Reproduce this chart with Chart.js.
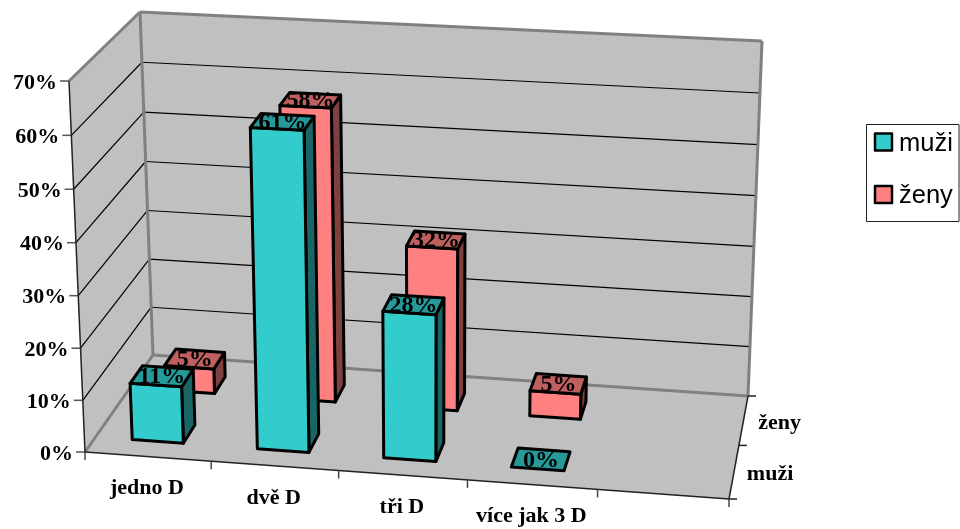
<!DOCTYPE html>
<html>
<head>
<meta charset="utf-8">
<style>
  html, body { margin: 0; padding: 0; background: #fff; overflow: hidden; }
  canvas { display: block; }
</style>
<script src="https://cdn.jsdelivr.net/npm/chart.js@4/dist/chart.umd.min.js"></script>
</head>
<body>
<canvas id="chart" width="960" height="529"></canvas>
<script>
const categories = ["jedno D", "dvě D", "tři D", "více jak 3 D", ""];
const muzi = [11, 61, 28, 0, null];
const zeny = [5, 58, 32, 5, null];
const seriesNames = ["muži", "ženy"];

const serifBold = "bold 22px 'Liberation Serif'";
const wallGray = "#c0c0c0";
const edgeGray = "#808080";

// corners of the box as they appear on the page: floor and lid, front-left first
const floorQuad = [[85, 452], [729, 499], [748, 396], [153, 355]];
const lidQuad = [[69, 81], [744, 114.5], [762, 41], [140, 12]];
const barDepth = 0.18;
const depthShift = -0.015;

function makeHomography(q) {
  const [[x0, y0], [x1, y1], [x2, y2], [x3, y3]] = q;
  const dx1 = x1 - x2, dx2 = x3 - x2, dx3 = x0 - x1 + x2 - x3;
  const dy1 = y1 - y2, dy2 = y3 - y2, dy3 = y0 - y1 + y2 - y3;
  const den = dx1 * dy2 - dx2 * dy1;
  const g = (dx3 * dy2 - dx2 * dy3) / den;
  const h = (dx1 * dy3 - dx3 * dy1) / den;
  const a = x1 - x0 + g * x1, b = x3 - x0 + h * x3;
  const d = y1 - y0 + g * y1, e = y3 - y0 + h * y3;
  return (u, v) => {
    const n = g * u + h * v + 1;
    return [(a * u + b * v + x0) / n, (d * u + e * v + y0) / n];
  };
}

const floorMap = makeHomography(floorQuad);
const lidMap = makeHomography(lidQuad);

// u = along categories, v = depth (0 front), w = height, all 0..1
function project(u, v, w) {
  const k = 1.03;
  const t = w / (k - (k - 1) * w);
  const p = floorMap(u, v);
  const q = lidMap(u, v);
  return [p[0] + (q[0] - p[0]) * t, p[1] + (q[1] - p[1]) * t];
}

function poly(ctx, pts, fill, stroke, lw) {
  ctx.beginPath();
  pts.forEach((p, i) => (i ? ctx.lineTo(p[0], p[1]) : ctx.moveTo(p[0], p[1])));
  ctx.closePath();
  if (fill) {
    ctx.fillStyle = fill;
    ctx.fill();
  }
  if (stroke) {
    ctx.strokeStyle = stroke;
    ctx.lineWidth = lw;
    ctx.lineJoin = "round";
    ctx.stroke();
  }
}

function line(ctx, a, b, color, lw) {
  ctx.beginPath();
  ctx.moveTo(a[0], a[1]);
  ctx.lineTo(b[0], b[1]);
  ctx.strokeStyle = color;
  ctx.lineWidth = lw;
  ctx.stroke();
}

function label(ctx, text, x, y, font, align) {
  ctx.font = font;
  ctx.fillStyle = "#000";
  ctx.textAlign = align || "center";
  ctx.textBaseline = "middle";
  ctx.fillText(text, x, y);
}

function drawWalls(chart, ctx) {
  const area = chart.chartArea;
  const yScale = chart.scales.y;
  const xScale = chart.scales.x;

  poly(ctx, [project(0, 0, 0), project(1, 0, 0), project(1, 1, 0), project(0, 1, 0)], wallGray);
  poly(ctx, [project(0, 0, 0), project(0, 1, 0), project(0, 1, 1), project(0, 0, 1)], wallGray);
  poly(ctx, [project(0, 1, 0), project(1, 1, 0), project(1, 1, 1), project(0, 1, 1)], wallGray);

  yScale.ticks.forEach((tick) => {
    const w = (area.bottom - yScale.getPixelForValue(tick.value)) / area.height;
    const front = project(0, 0, w);
    if (w > 0 && w < 1) {
      line(ctx, front, project(0, 1, w), "#000", 1.2);
      line(ctx, project(0, 1, w), project(1, 1, w), "#000", 1.2);
    }
    line(ctx, [front[0] - 9, front[1]], front, "#555", 1.5);
    label(ctx, tick.label, front[0] - 12, front[1] + 2, serifBold, "right");
  });

  // gray wall edges
  line(ctx, project(0, 0, 1), project(0, 1, 1), edgeGray, 3);
  line(ctx, project(0, 1, 1), project(1, 1, 1), edgeGray, 3);
  line(ctx, project(1, 1, 1), project(1, 1, 0), edgeGray, 3);
  line(ctx, project(0, 1, 1), project(0, 1, 0), edgeGray, 3);
  line(ctx, project(0, 1, 0), project(1, 1, 0), edgeGray, 3);
  line(ctx, project(0, 0, 0), project(0, 1, 0), edgeGray, 3);

  // black axis edges
  line(ctx, project(0, 0, 0), project(0, 0, 1), "#222", 1.5);
  line(ctx, project(0, 0, 0), project(1, 0, 0), "#222", 1.5);
  line(ctx, project(1, 0, 0), project(1, 1, 0), "#222", 1.5);

  // ticks along the front edge, labels centred between them
  const n = categories.length;
  for (let i = 0; i <= n; i++) {
    const p = project(i / n, 0, 0);
    line(ctx, p, [p[0], p[1] + 8], "#444", 1.5);
  }
  xScale.ticks.forEach((tick, i) => {
    if (!categories[i]) return;
    const u = (xScale.getPixelForValue(i) - area.left) / area.width;
    const p = project(u, 0, 0);
    label(ctx, categories[i], p[0] - 1, p[1] + 32, serifBold);
  });

  // depth axis on the right of the floor
  seriesNames.forEach((name, i) => {
    const v0 = i / seriesNames.length;
    const p = project(1, v0, 0);
    line(ctx, p, [p[0] + 8, p[1]], "#222", 1.5);
    const mid = project(1, (i + 0.5) / seriesNames.length, 0);
    label(ctx, name, mid[0] + 36, mid[1] + 3, serifBold);
  });
  const last = project(1, 1, 0);
  line(ctx, last, [last[0] + 8, last[1]], "#222", 1.5);
}

function drawBar(chart, ctx, dsIndex, i) {
  const area = chart.chartArea;
  const ds = chart.data.datasets[dsIndex];
  const el = chart.getDatasetMeta(dsIndex).data[i];
  if (ds.data[i] === null) return;

  const u0 = (el.x - el.width / 2 - area.left) / area.width;
  const u1 = (el.x + el.width / 2 - area.left) / area.width;
  const vc = (dsIndex + 0.5) / chart.data.datasets.length + depthShift;
  const v0 = vc - barDepth / 2;
  const v1 = vc + barDepth / 2;
  const w = (area.bottom - el.y) / area.height;

  const lw = 3;
  const frontFace = [project(u0, v0, 0), project(u1, v0, 0), project(u1, v0, w), project(u0, v0, w)];
  const sideFace = [project(u1, v0, 0), project(u1, v1, 0), project(u1, v1, w), project(u1, v0, w)];
  const topFace = [project(u0, v0, w), project(u1, v0, w), project(u1, v1, w), project(u0, v1, w)];

  if (w > 0) {
    poly(ctx, sideFace, ds.sideColor, "#000", lw);
    poly(ctx, frontFace, ds.backgroundColor, "#000", lw);
  }
  poly(ctx, topFace, ds.topColor, "#000", lw);
}

function drawBarLabel(chart, ctx, dsIndex, i) {
  const area = chart.chartArea;
  const ds = chart.data.datasets[dsIndex];
  const el = chart.getDatasetMeta(dsIndex).data[i];
  if (ds.data[i] === null) return;
  const u = (el.x - area.left) / area.width;
  const w = (area.bottom - el.y) / area.height;
  const p = project(u, (dsIndex + 0.5) / chart.data.datasets.length + depthShift, w);
  label(ctx, ds.data[i] + "%", p[0], p[1] + 1, "bold 24px 'Liberation Serif'");
}

function drawLegend(chart, ctx) {
  ctx.fillStyle = "#fff";
  ctx.fillRect(866.5, 124.5, 92.5, 97);
  ctx.strokeStyle = "#222";
  ctx.lineWidth = 1;
  ctx.strokeRect(866.5, 124.5, 92.5, 97);
  chart.data.datasets.forEach((ds, i) => {
    const top = 133.5 + i * 52.5;
    ctx.fillStyle = ds.backgroundColor;
    ctx.fillRect(875, top, 17, 17);
    ctx.strokeStyle = "#000";
    ctx.lineWidth = 2.5;
    ctx.strokeRect(875, top, 17, 17);
    ctx.font = "25.5px 'Liberation Sans'";
    ctx.fillStyle = "#000";
    ctx.textAlign = "left";
    ctx.textBaseline = "alphabetic";
    ctx.fillText(ds.label, 899, top + 17);
  });
}

const scene3d = {
  id: "scene3d",
  beforeDatasetsDraw(chart) {
    const ctx = chart.ctx;
    ctx.save();
    ctx.lineCap = "butt";
    drawWalls(chart, ctx);
    for (let d = chart.data.datasets.length - 1; d >= 0; d--) {
      categories.forEach((_, i) => drawBar(chart, ctx, d, i));
    }
    for (let d = chart.data.datasets.length - 1; d >= 0; d--) {
      categories.forEach((_, i) => drawBarLabel(chart, ctx, d, i));
    }
    drawLegend(chart, ctx);
    ctx.restore();
    return false; // flat bars are replaced by the boxes above
  },
};

new Chart(document.getElementById("chart"), {
  type: "bar",
  data: {
    labels: categories,
    datasets: [
      { label: seriesNames[0], data: muzi, backgroundColor: "#33cccc", topColor: "#269999", sideColor: "#1a6666" },
      { label: seriesNames[1], data: zeny, backgroundColor: "#ff8080", topColor: "#bf6060", sideColor: "#804040" },
    ],
  },
  options: {
    responsive: false,
    animation: false,
    layout: { padding: 0 },
    datasets: { bar: { grouped: false, categoryPercentage: 1, barPercentage: 0.41 } },
    plugins: { legend: { display: false }, tooltip: { enabled: false } },
    scales: {
      x: { display: false },
      y: {
        display: false,
        min: 0,
        max: 70,
        ticks: { stepSize: 10, callback: (v) => v + "%" },
      },
    },
  },
  plugins: [scene3d],
});
</script>
</body>
</html>
